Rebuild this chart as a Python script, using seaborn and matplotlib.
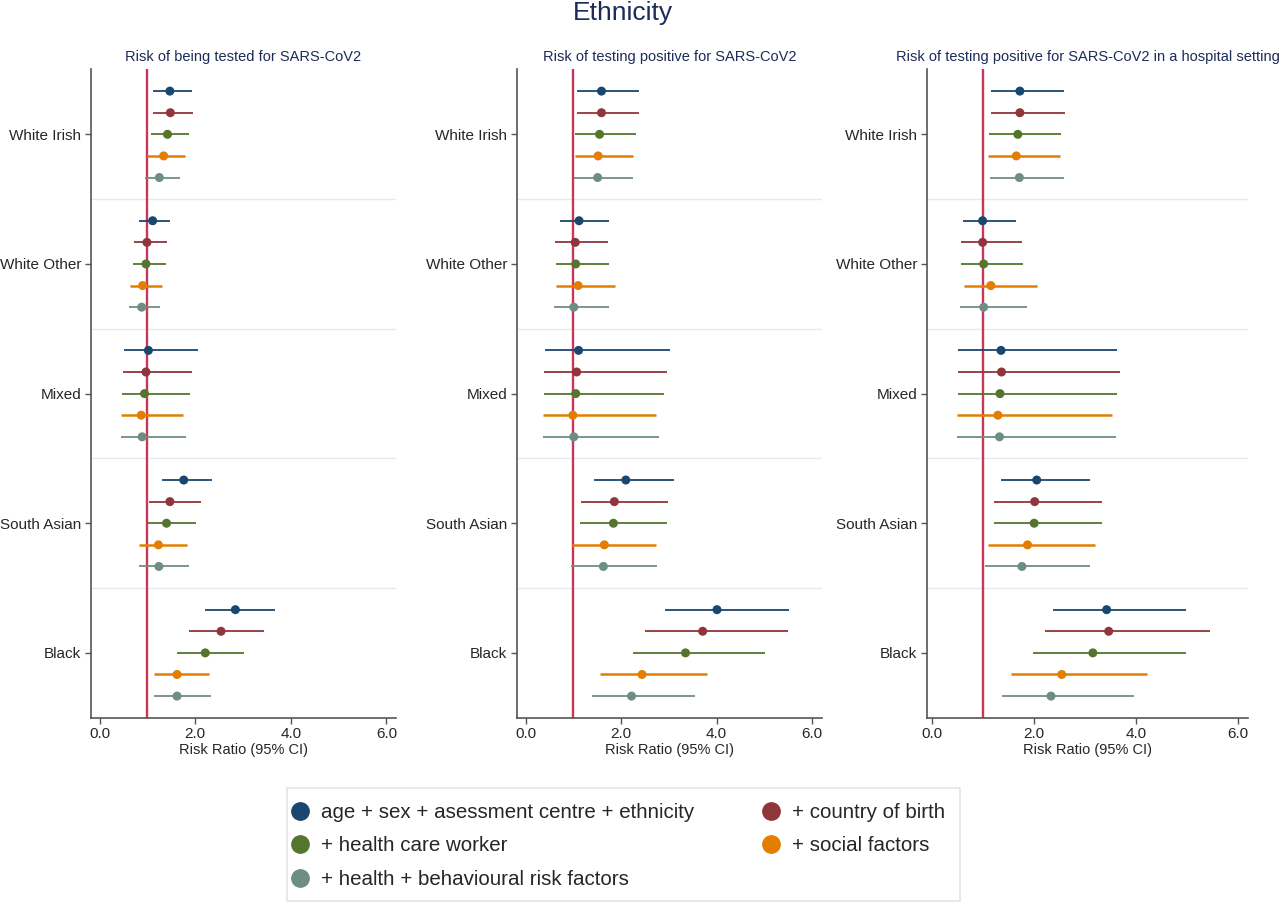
import matplotlib
matplotlib.use("Agg")
import matplotlib.pyplot as plt
from matplotlib.lines import Line2D
from matplotlib.patches import Rectangle
import numpy as np
import pandas as pd
import seaborn as sns

# Ethnic groups (rows) and the nested adjustment models (one line per model).
groups = ["White Irish", "White Other", "Mixed", "South Asian", "Black"]
models = ["age + sex + asessment centre + ethnicity", "+ country of birth",
          "+ health care worker", "+ social factors",
          "+ health + behavioural risk factors"]
colors = ["#1a476f", "#90353b", "#55752f", "#e37e00", "#6e8e84"]

panel_titles = ["Risk of being tested for SARS-CoV2",
                "Risk of testing positive for SARS-CoV2",
                "Risk of testing positive for SARS-CoV2 in a hospital setting"]

# Risk ratios and 95% CI, group by group, model by model.
tested_rr = [1.47, 1.48, 1.42, 1.34, 1.25, 1.11, 0.99, 0.97, 0.90, 0.88,
             1.02, 0.97, 0.94, 0.87, 0.89, 1.76, 1.47, 1.40, 1.23, 1.24,
             2.84, 2.54, 2.21, 1.62, 1.62]
tested_lo = [1.12, 1.12, 1.08, 1.00, 0.94, 0.83, 0.71, 0.69, 0.63, 0.61,
             0.50, 0.48, 0.46, 0.44, 0.45, 1.31, 1.04, 0.99, 0.83, 0.83,
             2.21, 1.87, 1.62, 1.14, 1.13]
tested_hi = [1.94, 1.96, 1.88, 1.78, 1.68, 1.48, 1.40, 1.38, 1.30, 1.27,
             2.05, 1.94, 1.89, 1.75, 1.80, 2.35, 2.12, 2.02, 1.82, 1.86,
             3.66, 3.44, 3.02, 2.28, 2.32]

pos_rr = [1.59, 1.59, 1.55, 1.52, 1.51, 1.12, 1.04, 1.05, 1.10, 1.01,
          1.11, 1.07, 1.05, 0.99, 1.01, 2.10, 1.86, 1.84, 1.65, 1.63,
          4.01, 3.71, 3.35, 2.44, 2.22]
pos_lo = [1.08, 1.08, 1.04, 1.03, 1.01, 0.73, 0.61, 0.63, 0.64, 0.59,
          0.40, 0.39, 0.38, 0.36, 0.36, 1.43, 1.17, 1.15, 0.98, 0.96,
          2.92, 2.50, 2.24, 1.56, 1.39]
pos_hi = [2.37, 2.38, 2.31, 2.26, 2.26, 1.75, 1.73, 1.75, 1.87, 1.74,
          3.03, 2.96, 2.90, 2.74, 2.79, 3.10, 2.99, 2.97, 2.73, 2.76,
          5.52, 5.49, 5.01, 3.81, 3.54]

hosp_rr = [1.72, 1.72, 1.68, 1.65, 1.71, 0.99, 0.99, 1.01, 1.15, 1.01,
           1.35, 1.36, 1.33, 1.29, 1.32, 2.05, 2.01, 2.00, 1.87, 1.76,
           3.42, 3.46, 3.15, 2.54, 2.33]
hosp_lo = [1.15, 1.15, 1.12, 1.10, 1.13, 0.61, 0.56, 0.57, 0.63, 0.54,
           0.51, 0.51, 0.50, 0.48, 0.49, 1.35, 1.22, 1.21, 1.09, 1.03,
           2.36, 2.21, 1.98, 1.54, 1.37]
hosp_hi = [2.59, 2.60, 2.53, 2.50, 2.58, 1.64, 1.77, 1.79, 2.05, 1.85,
           3.63, 3.69, 3.62, 3.52, 3.60, 3.10, 3.33, 3.32, 3.20, 3.10,
           4.98, 5.45, 4.98, 4.22, 3.96]

xtick_vals = [0, 2, 4, 6]
xtick_labels = ["0.0", "2.0", "4.0", "6.0"]

sns.set_style("white")
plt.rcParams['font.family'] = ['Liberation Sans', 'DejaVu Sans']

# Long table: one row per estimate.
rows = []
panel_data = [(tested_rr, tested_lo, tested_hi),
              (pos_rr, pos_lo, pos_hi),
              (hosp_rr, hosp_lo, hosp_hi)]
for p, (rr, lo, hi) in enumerate(panel_data):
    for g, grp in enumerate(groups):
        for m, mod in enumerate(models):
            i = g * len(models) + m
            rows.append({"panel": p, "group": grp, "model": mod,
                         "rr": rr[i], "lo": lo[i], "hi": hi[i],
                         "pos": g * (len(models) + 1) + m})
df = pd.DataFrame(rows)

fig = plt.figure(figsize=(12.8, 9.05), dpi=100)
W, H = 1280.0, 905.0
ax_px = [(91, 396, -0.18, 6.20), (517, 822, -0.18, 6.21), (927, 1248, -0.10, 6.19)]
top_px, bot_px = 69.5, 717.7
title_c = "#1c2b58"
ref_c = "#c8365a"
spine_c = "#555555"

for p, (l, r, xmin, xmax) in enumerate(ax_px):
    ax = fig.add_axes([l / W, 1 - bot_px / H, (r - l) / W, (bot_px - top_px) / H])
    d = df[df["panel"] == p]

    # separators between ethnic groups
    for g in range(len(groups) - 1):
        ax.axhline(g * (len(models) + 1) + len(models), color="#e4ebee",
                   lw=1.0, zorder=0)
    ax.axvline(1.0, color=ref_c, lw=1.7, zorder=2)

    for m, mod in enumerate(models):
        dm = d[d["model"] == mod]
        ax.hlines(dm["pos"], dm["lo"], dm["hi"], colors=colors[m],
                  lw=1.8 if m == 3 else 1.3, zorder=3)
    sns.scatterplot(data=d, x="rr", y="pos", hue="model", hue_order=models,
                    palette=colors, s=42, edgecolor="none", legend=False,
                    ax=ax, zorder=4)

    n_rows = len(groups) * (len(models) + 1)
    ax.set_ylim(n_rows - 1, -1)
    ax.set_xlim(xmin, xmax)
    ax.set_yticks([g * (len(models) + 1) + 2 for g in range(len(groups))])
    ax.set_yticklabels(groups, fontsize=11)
    ax.set_xticks(xtick_vals)
    ax.set_xticklabels(xtick_labels, fontsize=11)
    ax.tick_params(axis="both", length=4, width=1, color=spine_c,
                   direction="out", pad=3, left=True, bottom=True)
    ax.set_xlabel("Risk Ratio (95% CI)", fontsize=10.5, labelpad=1)
    ax.set_ylabel("")
    ax.set_title(panel_titles[p], fontsize=10.5, color=title_c, pad=6)
    for s in ["top", "right"]:
        ax.spines[s].set_visible(False)
    for s in ["left", "bottom"]:
        ax.spines[s].set_color(spine_c)
        ax.spines[s].set_linewidth(1.2)

fig.text(623 / W, 1 - 13 / H, "Ethnicity", ha="center", va="center",
         fontsize=19, color=title_c)

# Legend box drawn as a figure patch; entries placed inside it.
fig.patches.append(Rectangle((287 / W, 1 - 901 / H), 673 / W, 113 / H,
                             transform=fig.transFigure, fill=False,
                             edgecolor="#dde7e6", lw=1.2))
order = [0, 2, 4, 1, 3]
handles = [Line2D([], [], marker="o", ls="", color=colors[i], markersize=12.5)
           for i in order]
labels = [models[i] for i in order]
leg = fig.legend(handles, labels, loc="upper left", ncol=2,
                 bbox_to_anchor=(293 / W, 1 - 803 / H),
                 borderaxespad=0, borderpad=0, fontsize=14.8, frameon=False,
                 handlelength=0.65, handletextpad=0.72,
                 labelspacing=0.7, columnspacing=3.4)

fig.savefig("out.png", dpi=100)
